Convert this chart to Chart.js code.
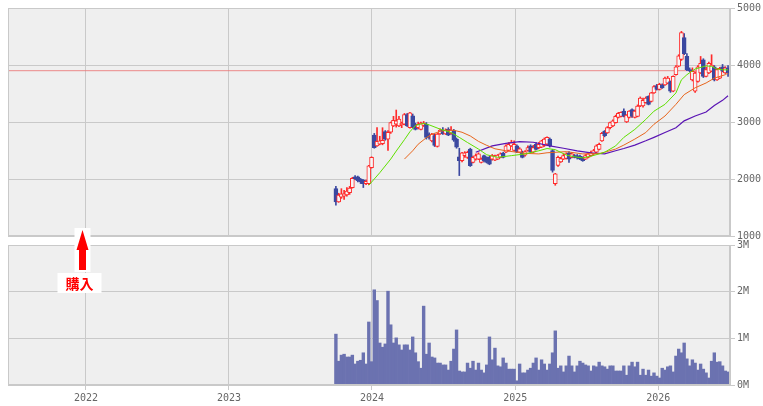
<!DOCTYPE html>
<html><head><meta charset="utf-8">
<script src="https://cdn.jsdelivr.net/npm/chart.js@4.4.1/dist/chart.umd.min.js"></script>
<style>
html,body{margin:0;padding:0;background:#fff;overflow:hidden}
#wrap{position:relative;width:763px;height:406px}
#wrap canvas{position:absolute;left:0;top:0}
</style></head><body>
<div id="wrap"><canvas id="vol" width="763" height="406"></canvas><canvas id="price" width="763" height="406"></canvas></div>
<script>
// ---------------- data ----------------
const firstWeek = '2023-10-01';           // weekly candles start
const axisStart = '2021-06-16';
const axisEnd = '2026-07-03';
const yearTicks = [2022, 2023, 2024, 2025, 2026];
const priceTicks = [1000, 2000, 3000, 4000, 5000];
const volumeTicksM = [0, 1, 2, 3];
const refPrice = 3900;
const buyDate = '2021-12-23';
const buyLabel = '購入';

const candleOpen = [1830,1600,1680,1700,1720,1760,1850,2040,2040,2000,1980,1920,1920,2200,2770,2580,2610,2620,2830,2700,2820,2930,2960,2930,2950,2960,3130,2900,3110,2960,2900,2870,2940,2960,2790,2670,2760,2570,2790,2860,2790,2870,2800,2850,2700,2390,2320,2410,
 2380,2525,2290,2350,2350,2290,2410,2380,2380,2350,2330,2350,2380,2450,2470,2500,2580,2500,2580,2470,2470,2420,2500,2580,2470,2610,2550,2560,2590,2610,2700,2500,1920,2240,2300,2350,2360,2460,2380,2410,2410,2400,2380,2350,2380,2410,2440,2470,2520,
 2670,2840,2810,2900,2930,2990,3080,3100,3190,3000,3080,3220,3080,3100,3280,3280,3340,3450,3360,3510,3640,3570,3650,3650,3680,3710,3540,3830,3980,4100,4480,4150,3920,3740,3540,3710,3860,4090,3800,3860,3890,3970,3740,3770,3970,3860,3950];
const candleHigh = [1870,1750,1830,1800,1850,1870,2030,2060,2050,2010,1990,1980,2240,2390,2800,2900,2750,2900,2850,2850,3000,3100,3210,3100,3000,3150,3150,3170,3140,2980,3000,3000,3010,2990,2810,2800,2790,2800,2880,2900,2880,2900,2920,2870,2720,2540,2470,2480,
 2490,2540,2400,2440,2460,2370,2420,2390,2400,2430,2420,2430,2460,2470,2600,2640,2680,2670,2600,2550,2490,2500,2580,2600,2590,2640,2640,2680,2720,2740,2720,2520,2100,2400,2380,2440,2460,2480,2460,2430,2430,2420,2390,2430,2460,2490,2520,2600,2630,
 2820,2850,2920,3000,3040,3120,3170,3180,3230,3130,3200,3230,3210,3300,3440,3420,3440,3460,3520,3640,3660,3680,3670,3790,3800,3720,3810,3990,4180,4590,4550,4200,3950,3950,3880,3990,4150,4110,3960,4050,4180,3990,3940,3960,4010,3970,3990];
const candleLow = [1540,1590,1660,1640,1700,1730,1840,1990,1950,1920,1850,1900,1900,2190,2540,2570,2600,2600,2680,2500,2800,2920,2910,2920,2900,2950,2920,2890,2900,2860,2880,2860,2920,2700,2700,2650,2570,2560,2780,2780,2780,2760,2780,2660,2540,2060,2300,2380,
 2360,2220,2280,2330,2340,2280,2300,2280,2250,2330,2320,2340,2370,2370,2460,2490,2570,2490,2460,2460,2370,2400,2490,2460,2460,2510,2530,2550,2570,2600,2560,2120,1890,2220,2290,2340,2350,2290,2370,2370,2350,2340,2310,2340,2370,2400,2430,2460,2510,
 2660,2740,2800,2880,2920,2980,3070,3090,3090,2990,3070,3080,3070,3090,3270,3260,3330,3300,3350,3500,3560,3560,3590,3640,3670,3520,3530,3820,3970,4080,4180,3900,3880,3720,3520,3700,3850,3780,3790,3850,3880,3720,3730,3760,3880,3850,3800];
const candleClose = [1600,1720,1740,1740,1790,1840,2010,2000,1970,1950,1920,1960,2230,2380,2550,2660,2670,2680,2700,2820,2990,3030,3020,3050,2980,3130,2930,3160,2920,2870,2960,2980,2980,2730,2730,2790,2590,2790,2860,2790,2860,2770,2860,2680,2560,2320,2460,2460,
 2470,2235,2380,2410,2440,2350,2320,2290,2260,2410,2410,2420,2440,2380,2580,2610,2640,2610,2470,2530,2380,2480,2550,2470,2550,2520,2610,2670,2700,2730,2580,2150,2090,2380,2360,2410,2440,2350,2440,2380,2370,2350,2320,2410,2440,2470,2500,2580,2610,
 2800,2760,2900,2990,3020,3100,3150,3170,3100,3120,3190,3100,3190,3280,3420,3380,3420,3310,3510,3620,3570,3660,3600,3770,3770,3540,3800,3970,4160,4570,4200,3920,3900,3890,3860,3970,4030,3800,3920,4030,4000,3740,3920,3940,3890,3950,3860];
const volumeM = [1.09,0.51,0.64,0.66,0.60,0.60,0.64,0.45,0.51,0.53,0.69,0.45,1.35,0.50,2.04,1.81,0.90,0.81,0.88,2.01,
 1.29,0.90,1.01,0.86,0.75,0.86,0.86,0.75,1.03,0.69,0.50,0.36,1.69,0.66,0.90,0.60,0.58,0.47,0.47,0.43,
 0.43,0.32,0.51,0.77,1.18,0.30,0.28,0.28,0.47,0.36,0.51,0.32,0.47,0.32,0.26,0.43,1.03,0.54,0.79,0.41,
 0.39,0.58,0.47,0.34,0.34,0.34,0.09,0.45,0.26,0.26,0.32,0.36,0.47,0.58,0.32,0.54,0.45,0.32,0.45,0.69,
 1.16,0.36,0.41,0.28,0.41,0.62,0.41,0.28,0.41,0.51,0.47,0.43,0.41,0.30,0.41,0.39,0.49,0.41,0.39,0.34,
 0.41,0.41,0.30,0.30,0.30,0.41,0.21,0.41,0.49,0.39,0.49,0.21,0.34,0.21,0.32,0.19,0.26,0.19,0.15,0.36,
 0.32,0.39,0.41,0.28,0.62,0.77,0.69,0.90,0.56,0.41,0.54,0.47,0.32,0.45,0.34,0.26,0.15,0.51,0.69,0.49,
 0.50,0.41,0.30,0.28];

// moving averages (week index, value)
const ma13Week = [12,16,20,22,25,27,29,32,34,38,42,45,48,52,55,59,64,69,74,77,80,84,87,90,93,96,98,102,105,109,113,116,120,124,126,128,131,135,137,139,141,143];
const ma13Value = [1890,2110,2350,2490,2690,2830,2940,2975,2950,2875,2815,2730,2640,2525,2425,2380,2410,2440,2495,2535,2515,2420,2390,2370,2400,2440,2470,2580,2730,2870,3045,3190,3310,3510,3740,3830,3930,3985,3975,3930,3915,3915];
const ma26Week = [25,28,30,33,35,38,40,43,46,49,52,55,58,62,69,74,77,84,90,96,98,102,105,109,113,116,120,124,127,131,135,138,142,143];
const ma26Value = [2350,2495,2610,2725,2785,2835,2855,2855,2820,2755,2660,2590,2530,2495,2450,2440,2460,2480,2440,2445,2470,2525,2595,2700,2815,2960,3105,3310,3480,3600,3685,3770,3830,3860];
const ma52Week = [51,57,62,67,72,78,83,88,93,98,102,105,109,113,116,120,124,127,131,135,138,141,143];
const ma52Value = [2470,2580,2625,2655,2645,2580,2540,2495,2460,2440,2495,2535,2595,2670,2730,2815,2900,3020,3105,3175,3290,3380,3460];

// ---------------- helpers ----------------
const DAY = 864e5;
const toDay = s => Date.parse(s + 'T00:00:00Z') / DAY;
const startDay = toDay(firstWeek);
const weekDay = i => startDay + 7 * i;
const xMin = toDay(axisStart), xMax = toDay(axisEnd);

const UP = '#ff2a2a', DOWN = '#3b48a0', UPFILL = '#f7f7f7';
const GRID = '#c9c9c9', BG = '#efefef';

Chart.defaults.font.family = '"DejaVu Sans Mono", monospace';
Chart.defaults.font.size = 10;
Chart.defaults.color = '#666';
Chart.defaults.animation = false;

function xScale(showLabels) {
  return {
    type: 'linear', min: xMin, max: xMax, offset: false,
    afterBuildTicks: s => { s.ticks = yearTicks.map(y => ({ value: toDay(y + '-01-01') })); },
    ticks: { display: showLabels, autoSkip: false, maxRotation: 0, padding: 2,
      callback: v => String(new Date(v * DAY).getUTCFullYear()) },
    grid: { color: GRID, drawTicks: showLabels, tickLength: 5, offset: false },
    border: { color: GRID },
    afterFit: s => { s.height = showLabels ? 21 : 0; }
  };
}
function yScale(min, max, ticks, fmt) {
  return {
    position: 'right', min, max,
    afterBuildTicks: s => { s.ticks = ticks.map(v => ({ value: v })); },
    ticks: { padding: 2, callback: fmt },
    grid: { color: GRID, tickLength: 5 },
    border: { color: GRID },
    afterFit: s => { s.width = 33; }
  };
}
const panel = {
  id: 'panel',
  beforeDraw(chart) {
    const { ctx, chartArea: a } = chart;
    ctx.save(); ctx.fillStyle = BG; ctx.fillRect(a.left, a.top, a.right - a.left, a.bottom - a.top); ctx.restore();
  },
  afterDraw(chart) {
    const { ctx, chartArea: a } = chart;
    ctx.save(); ctx.strokeStyle = GRID; ctx.lineWidth = 1;
    ctx.strokeRect(Math.round(a.left) + 0.5, Math.round(a.top) + 0.5, Math.round(a.right - a.left) - 1, Math.round(a.bottom - a.top) - 1);
    ctx.restore();
  }
};
const buyMark = {
  id: 'buyMark',
  afterDraw(chart) {
    const { ctx, chartArea: a } = chart;
    const x = Math.round(chart.scales.x.getPixelForValue(toDay(buyDate))) + 0.5;
    const b = a.bottom;
    ctx.save();
    ctx.fillStyle = '#fff';
    ctx.fillRect(x - 8, b - 8, 16, 44);
    ctx.fillStyle = '#ff0000';
    ctx.beginPath();
    ctx.moveTo(x, b - 6); ctx.lineTo(x + 6, b + 14); ctx.lineTo(x + 3.5, b + 14);
    ctx.lineTo(x + 3.5, b + 34); ctx.lineTo(x - 3.5, b + 34); ctx.lineTo(x - 3.5, b + 14);
    ctx.lineTo(x - 6, b + 14); ctx.closePath(); ctx.fill();
    ctx.fillStyle = '#fff';
    ctx.fillRect(x - 25, b + 37, 44, 20);
    ctx.fillStyle = '#ff0000';
    ctx.font = 'bold 14px "Noto Sans CJK JP"';
    ctx.textAlign = 'center'; ctx.textBaseline = 'middle';
    ctx.fillText(buyLabel, x - 3, b + 48);
    ctx.restore();
  }
};

// ---------------- datasets ----------------
const isUp = candleOpen.map((o, i) => candleClose[i] >= o);
const wicks = candleHigh.map((h, i) => ({ x: weekDay(i), y: [candleLow[i], h] }));
const bodies = candleOpen.map((o, i) => {
  const c = candleClose[i];
  let lo = Math.min(o, c), hi = Math.max(o, c);
  if (hi - lo < 20) { hi += 10; lo -= 10; }
  return { x: weekDay(i), y: [lo, hi] };
});
const maLine = (weeks, vals) => weeks.map((w, k) => ({ x: weekDay(w), y: vals[k] }));

new Chart(document.getElementById('price'), {
  type: 'bar',
  data: { datasets: [
    { type: 'line', data: maLine(ma13Week, ma13Value), borderColor: '#5fe000', borderWidth: 1, pointRadius: 0, order: 0 },
    { type: 'line', data: maLine(ma26Week, ma26Value), borderColor: '#e8651c', borderWidth: 1, pointRadius: 0, order: 0 },
    { type: 'line', data: maLine(ma52Week, ma52Value), borderColor: '#5a14b4', borderWidth: 1.2, pointRadius: 0, order: 0 },
    { data: bodies, grouped: false, barThickness: 4, borderWidth: 1, borderSkipped: false,
      backgroundColor: isUp.map(u => u ? UPFILL : DOWN), borderColor: isUp.map(u => u ? UP : DOWN), order: 1 },
    { data: wicks, grouped: false, barThickness: 1, borderWidth: 0,
      backgroundColor: isUp.map(u => u ? UP : DOWN), order: 2 },
    { type: 'line', data: [{ x: xMin, y: refPrice }, { x: xMax, y: refPrice }], borderColor: 'rgba(235,120,120,0.85)', borderWidth: 1, pointRadius: 0, order: 3 }
  ] },
  options: {
    responsive: false, devicePixelRatio: 1,
    layout: { padding: { top: 6, left: 8, right: 0, bottom: 170 } },
    plugins: { legend: { display: false }, tooltip: { enabled: false } },
    scales: { x: xScale(false), y: yScale(1000, 5000, priceTicks, v => String(v)) }
  },
  plugins: [panel, buyMark]
});

new Chart(document.getElementById('vol'), {
  type: 'bar',
  data: { datasets: [
    { data: volumeM.map((v, i) => ({ x: weekDay(i), y: v })), backgroundColor: '#6b72b0',
      barPercentage: 1, categoryPercentage: 1, borderWidth: 0 }
  ] },
  options: {
    responsive: false, devicePixelRatio: 1,
    layout: { padding: { top: 245, left: 8, right: 0, bottom: 0 } },
    plugins: { legend: { display: false }, tooltip: { enabled: false } },
    scales: { x: xScale(true), y: yScale(0, 3, volumeTicksM, v => v + 'M') }
  },
  plugins: [panel]
});
</script></body></html>
